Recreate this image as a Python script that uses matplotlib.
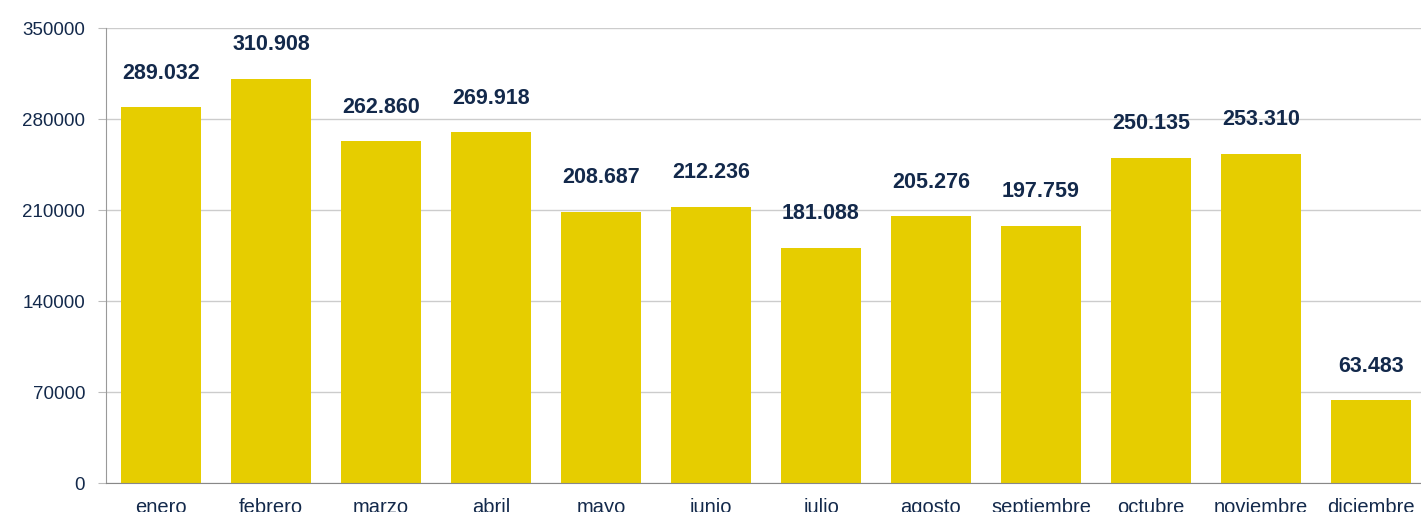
import matplotlib
matplotlib.use("Agg")
import matplotlib.pyplot as plt

meses = ["enero", "febrero", "marzo", "abril", "mayo", "junio", "julio",
         "agosto", "septiembre", "octubre", "noviembre", "diciembre"]
valores = [289032, 310908, 262860, 269918, 208687, 212236, 181088,
           205276, 197759, 250135, 253310, 63483]
yticks = [0, 70000, 140000, 210000, 280000, 350000]

plt.rcParams['font.family'] = ['Liberation Sans', 'DejaVu Sans']
navy = '#13294b'

fig = plt.figure(figsize=(14.21, 5.12), dpi=100)
ax = fig.add_axes([0.0746, 0.0566, 0.9289, 0.8887])

x = range(len(meses))
ax.bar(x, valores, width=0.73, color='#e6cd00', zorder=2)
for i, v in enumerate(valores):
    etiqueta = f"{v:,}".replace(",", ".")
    ax.annotate(etiqueta, (i, v), xytext=(0, 17), textcoords='offset points',
                ha='center', va='bottom', fontsize=15.5, fontweight='bold', color=navy)

ax.set_xlim(-0.5, 11.5)
ax.set_ylim(0, 350000)
ax.set_yticks(yticks)
ax.set_yticklabels([str(t) for t in yticks])
ax.set_xticks(list(x))
ax.set_xticklabels(meses)
ax.tick_params(axis='y', length=6, color='#bbbbbb', labelsize=13.5, labelcolor=navy, pad=9)
ax.tick_params(axis='x', length=0, labelsize=14.5, labelcolor=navy, pad=11)
ax.grid(axis='y', color='#cccccc', linewidth=1, zorder=0)
for s in ['top', 'right']:
    ax.spines[s].set_visible(False)
ax.spines['left'].set_color('#999999')
ax.spines['bottom'].set_color('#888888')

fig.savefig("out.png", dpi=100)
